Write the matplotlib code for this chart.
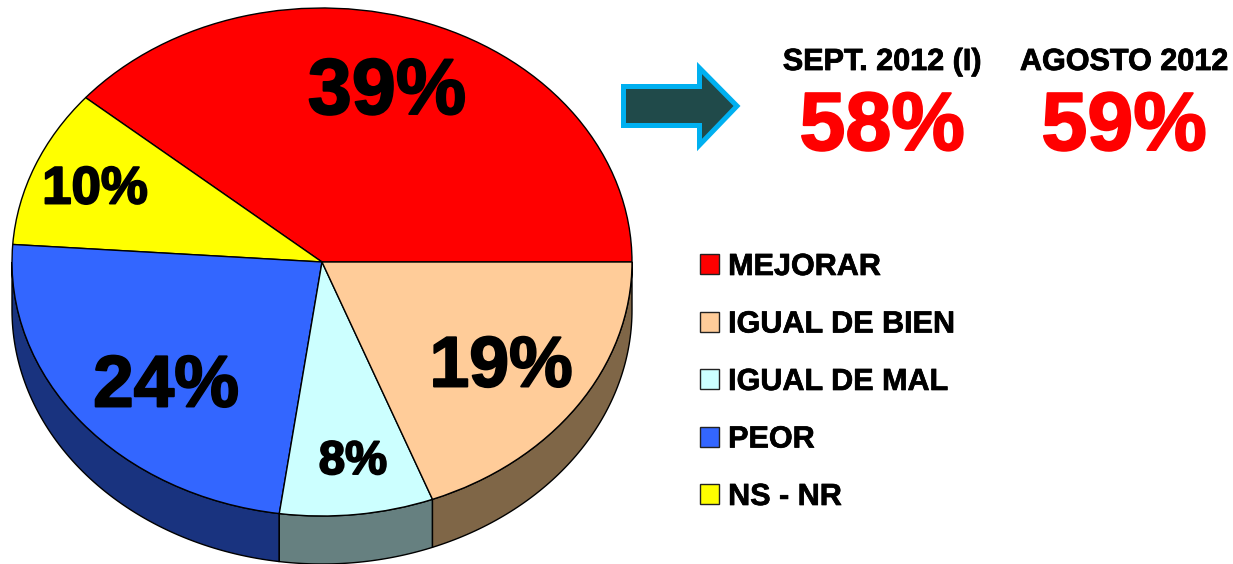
import numpy as np
import matplotlib
matplotlib.use("Agg")
import matplotlib.pyplot as plt
import matplotlib.patheffects as pe
from matplotlib.patches import Patch, Polygon

categories = ["MEJORAR", "IGUAL DE BIEN", "IGUAL DE MAL", "PEOR", "NS - NR"]
values = [38.8, 19.2, 8.0, 23.9, 10.1]
# order around the pie, counter-clockwise from 3 o'clock
pie_order = [0, 4, 3, 2, 1]
colors = ["#FF0000", "#FFCC99", "#CCFFFF", "#3366FF", "#FFFF00"]
side_colors = ["#7F0000", "#7F6647", "#668080", "#19337F", "#7F7F00"]
pct_labels = ["39%", "19%", "8%", "24%", "10%"]
headers = ["SEPT. 2012 (I)", "AGOSTO 2012"]
header_values = ["58%", "59%"]

W, H = 1233, 564
plt.rcParams["font.family"] = ["Liberation Sans", "DejaVu Sans"]
plt.rcParams["font.weight"] = "bold"

fig = plt.figure(figsize=(W / 100, H / 100), dpi=100)

# pie axes: same pixel scale as the picture, centre 322,262, radii 310 x 254
rx, ry, depth = 310.0, 254.0, 48.0
ax = fig.add_axes([0, 0, 1, 1])
ax.pie([values[i] for i in pie_order], colors=[colors[i] for i in pie_order],
       startangle=0, counterclock=True, radius=1,
       wedgeprops={"edgecolor": "black", "linewidth": 1.0, "zorder": 3})
ax.set_aspect("auto")
ax.set_xlim(-322 / rx, (W - 322) / rx)
ax.set_ylim((262 - H) / ry, 262 / ry)
ax.axis("off")

# side wall of the lower half
d = depth / ry
start = 0.0
for i in pie_order:
    end = start + values[i] * 3.6
    a = max(start, 180.0)
    b = min(end, 360.0)
    if b > a:
        t = np.radians(np.linspace(a, b, 80))
        xs = np.r_[np.cos(t), np.cos(t[::-1])]
        ys = np.r_[np.sin(t), np.sin(t[::-1]) - d]
        ax.fill(xs, ys, facecolor=side_colors[i], edgecolor="black", linewidth=1.0,
                zorder=2, clip_on=False)
    start = end

# overlay in pixel coordinates for the texts
ov = fig.add_axes([0, 0, 1, 1], zorder=5)
ov.set_xlim(0, W)
ov.set_ylim(H, 0)
ov.axis("off")
ov.patch.set_alpha(0)

# the source text is heavier than Liberation bold, so thicken it a little
def heavy(width, color):
    return [pe.withStroke(linewidth=width, foreground=color)]

label_pos = [(387, 85, 57), (501, 360, 51.5), (353, 457, 34), (166, 380, 52.5), (95, 184, 38)]
for txt, (x, y, fs) in zip(pct_labels, label_pos):
    ov.text(x, y, txt, ha="center", va="center_baseline", fontsize=fs, color="black",
            path_effects=heavy(1.4, "black"))

ov.add_patch(Polygon([(623.5, 86.5), (699.5, 86.5), (699.5, 68), (737, 106),
                      (699.5, 145), (699.5, 125.5), (623.5, 125.5)], closed=True,
                     facecolor="#204A4A", edgecolor="#00B0F0", linewidth=3.6,
                     joinstyle="miter"))

for x, head, val in zip([882, 1124], headers, header_values):
    ov.text(x, 70, head, ha="center", va="baseline", fontsize=22, color="black",
            path_effects=heavy(0.6, "black"))
    ov.text(x, 150, val, ha="center", va="baseline", fontsize=59.5, color="#FF0000",
            path_effects=heavy(1.4, "#FF0000"))

handles = [Patch(facecolor=c, edgecolor="#222222", linewidth=1.0) for c in colors]
leg = ov.legend(handles, categories, loc="upper left", bbox_to_anchor=(700 / W, 1 - 252 / H),
                frameon=False, fontsize=22, handlelength=0.62, handleheight=0.62,
                handletextpad=0.3, labelspacing=0.9, borderpad=0, borderaxespad=0)
for t in leg.get_texts():
    t.set_path_effects(heavy(0.5, "black"))

fig.savefig("out.png", dpi=100, facecolor="white")
